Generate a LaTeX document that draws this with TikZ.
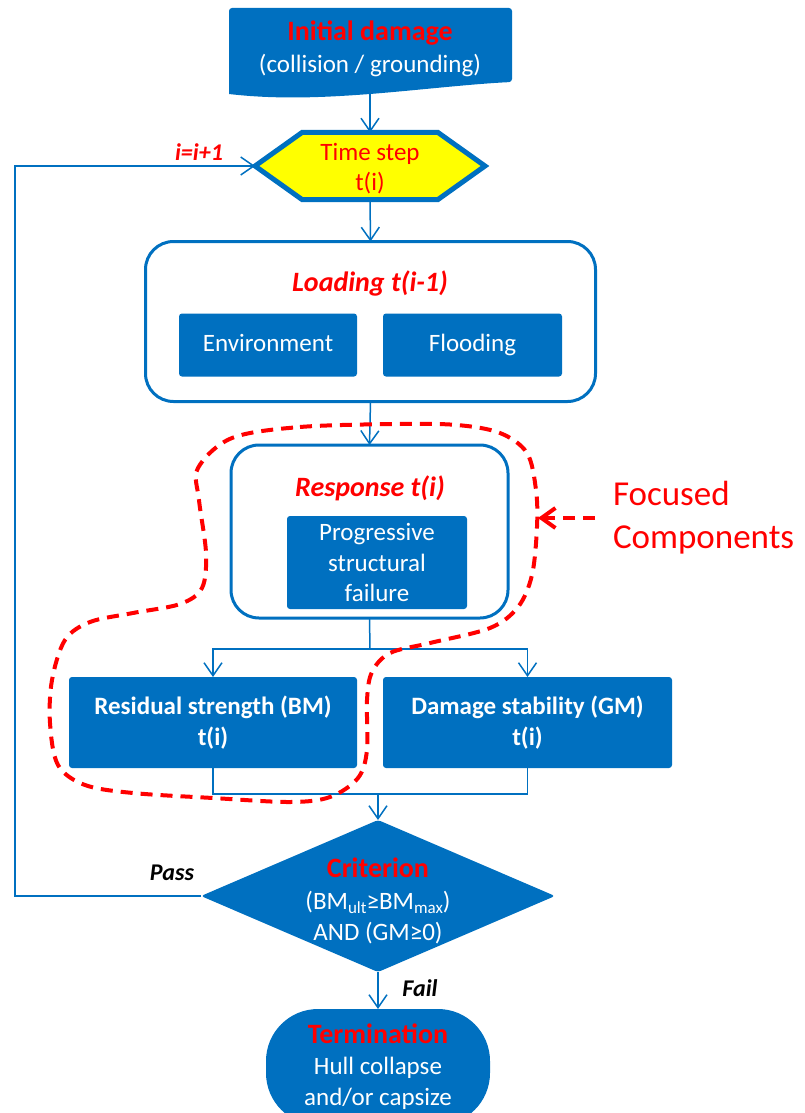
\documentclass[tikz,border=0pt]{standalone}
\usepackage{fontspec}
\setmainfont{Carlito}
\newfontfamily\symfont{DejaVu Sans}
\usetikzlibrary{arrows.meta,backgrounds}
\definecolor{mblue}{RGB}{0,112,192}
\definecolor{mred}{RGB}{255,0,0}
\definecolor{myellow}{RGB}{255,255,0}
\newcommand\fs[2]{\fontsize{#1}{#2}\selectfont}
% greater-or-equal sign, taken from DejaVu Sans if the main font lacks it
\newcommand\gesign{\iffontchar\font"2265 ≥\else{\symfont ≥}\fi}
\newcommand\lowidx[1]{\raisebox{-3.5pt}{\fs{17}{17}#1}}

\begin{document}
\begin{tikzpicture}[x=1pt,y=-1pt,
  every node/.style={inner sep=0pt, outer sep=0pt},
  conn/.style={draw=mblue, line width=1.5pt},
  arr/.style={conn, -{Straight Barb[length=13pt,width=18pt]}},
  bluebox/.style={fill=mblue, rounded corners=3pt, text=white, align=center, font=\fs{25}{31}},
  frame/.style={draw=mblue, line width=3pt, rounded corners=28pt, fill=white},
  ititle/.style={text=mred, font=\fs{28}{31}\bfseries\itshape},
  tag/.style={font=\fs{24}{28}\bfseries\itshape},
  focus/.style={draw=mred, line width=4pt, dash pattern=on 12pt off 8pt},
]
\useasboundingbox (0,0) rectangle (804,1113);
\clip (0,0) rectangle (804,1113);

% start: document shape with a wavy lower edge
\fill[mblue] (229,94) [rounded corners=3pt] -- (229,8) -- (512,8) -- (512,82) [sharp corners]
  .. controls (470,84) and (420,90) .. (370,94)
  .. controls (330,97) and (280,100) .. (229,94) -- cycle;
\node[text=white, align=center, font=\fs{25}{32}] (init) at (370,49)
  {\textcolor{mred}{\fs{28}{32}\bfseries Initial damage}\\(collision / grounding)};
\coordinate (initb) at (370,94);

% time step hexagon
\node[minimum width=230pt, minimum height=67pt] (ts) at (370,166) {};
\node[text=mred, align=center, font=\fs{25}{30}] (tstext) at (370,169) {Time step\\t(i)};
\begin{scope}[on background layer]
  \draw[draw=mblue, fill=myellow, line width=5pt, line join=miter]
    (ts.west) -- ([xshift=47pt]ts.north west) -- ([xshift=-47pt]ts.north east)
    -- (ts.east) -- ([xshift=-47pt]ts.south east) -- ([xshift=47pt]ts.south west) -- cycle;
\end{scope}

% loading block
\node[frame, minimum width=450pt, minimum height=160pt] (load) at (370.5,321.5) {};
\node[ititle] (loadt) at (370,283) {Loading t(i-1)};
\node[bluebox, minimum width=178pt, minimum height=63pt] (env) at (268,345) {Environment\strut};
\node[bluebox, minimum width=179pt, minimum height=63pt] (flood) at (472.5,345) {Flooding\strut};

% response block
\node[frame, minimum width=277pt, minimum height=173pt] (resp) at (369.5,531.5) {};
\node[ititle] (respt) at (370,488) {Response t(i)};
\node[bluebox, minimum width=180pt, minimum height=93pt, font=\fs{25}{30.5}] (prog) at (377,562.5)
  {Progressive\\structural\\failure};

% residual strength and damage stability
\node[bluebox, font=\fs{25}{31}\bfseries, minimum width=288pt, minimum height=91pt] (resid) at (213,722.5)
  {Residual strength (BM)\\t(i)};
\node[bluebox, font=\fs{25}{31}\bfseries, minimum width=289pt, minimum height=91pt] (dstab) at (527.5,722.5)
  {Damage stability (GM)\\t(i)};

% criterion diamond
\node[minimum width=354pt, minimum height=152pt] (crit) at (378,896) {};
\begin{scope}[on background layer]
  \fill[mblue, rounded corners=3pt] (crit.west) -- (crit.north) -- (crit.east) -- (crit.south) -- cycle;
\end{scope}
\node[text=white, align=center, font=\fs{25}{31}] (crittext) at (378,901)
  {\textcolor{mred}{\fs{28}{31}\bfseries Criterion}\\[1pt]
   (BM\lowidx{ult}\gesign BM\lowidx{max})\\
   AND (GM\gesign 0)};

% termination
\node[bluebox, rounded corners=52pt, minimum width=224pt, minimum height=116pt, font=\fs{25}{31}]
  (term) at (378,1067)
  {\textcolor{mred}{\fs{28}{31}\bfseries Termination}\\Hull collapse\\and/or capsize};

% connectors
\draw[arr] (initb) -- (ts.north);
\draw[arr] (ts.south) -- (load.north);
\draw[arr] (load.south) -- (resp.north);
\coordinate (br) at (370,649);
\draw[conn] (resp.south) -- (br);
\draw[arr] (br) -| (resid.north);
\draw[arr] (br) -| (dstab.north);
\coordinate (mg) at (378,794);
\draw[conn] (resid.south) |- (mg) -| (dstab.south);
\draw[arr] (mg) -- (crit.north);
\draw[arr] (crit.south) -- (term.north);
\coordinate (lp) at (15,530);
\draw[arr] (crit.west) -| (lp) |- (ts.west);

% connector labels
\node[tag, text=mred] (inc) at (199,152) {i=i+1};
\node[tag] (pass) at (172,873) {Pass};
\node[tag] (fail) at (420,988) {Fail};

% outline of the focused components
\draw[focus] plot[smooth cycle, tension=0.55] coordinates {
  (232,438) (300,427) (397,424) (457,425) (500,433) (527,453) (536,490)
  (537,527) (532,575) (518,607) (490,628) (430,643) (390,653) (372,672)
  (367,700) (367,750) (358,778) (330,797) (290,802) (213,798) (133,793)
  (85,785) (58,765) (50,723) (52,680) (65,640) (90,622) (133,613)
  (180,604) (202,588) (206,553) (199,500) (198,468) };
\node[text=mred, align=left, font=\fs{35}{43}, anchor=west] (fc) at (613,518) {Focused\\Components};
\draw[focus, -{Straight Barb[length=14pt,width=20pt]}] ([xshift=-18pt]fc.west) -- (538,518);
\end{tikzpicture}
\end{document}
